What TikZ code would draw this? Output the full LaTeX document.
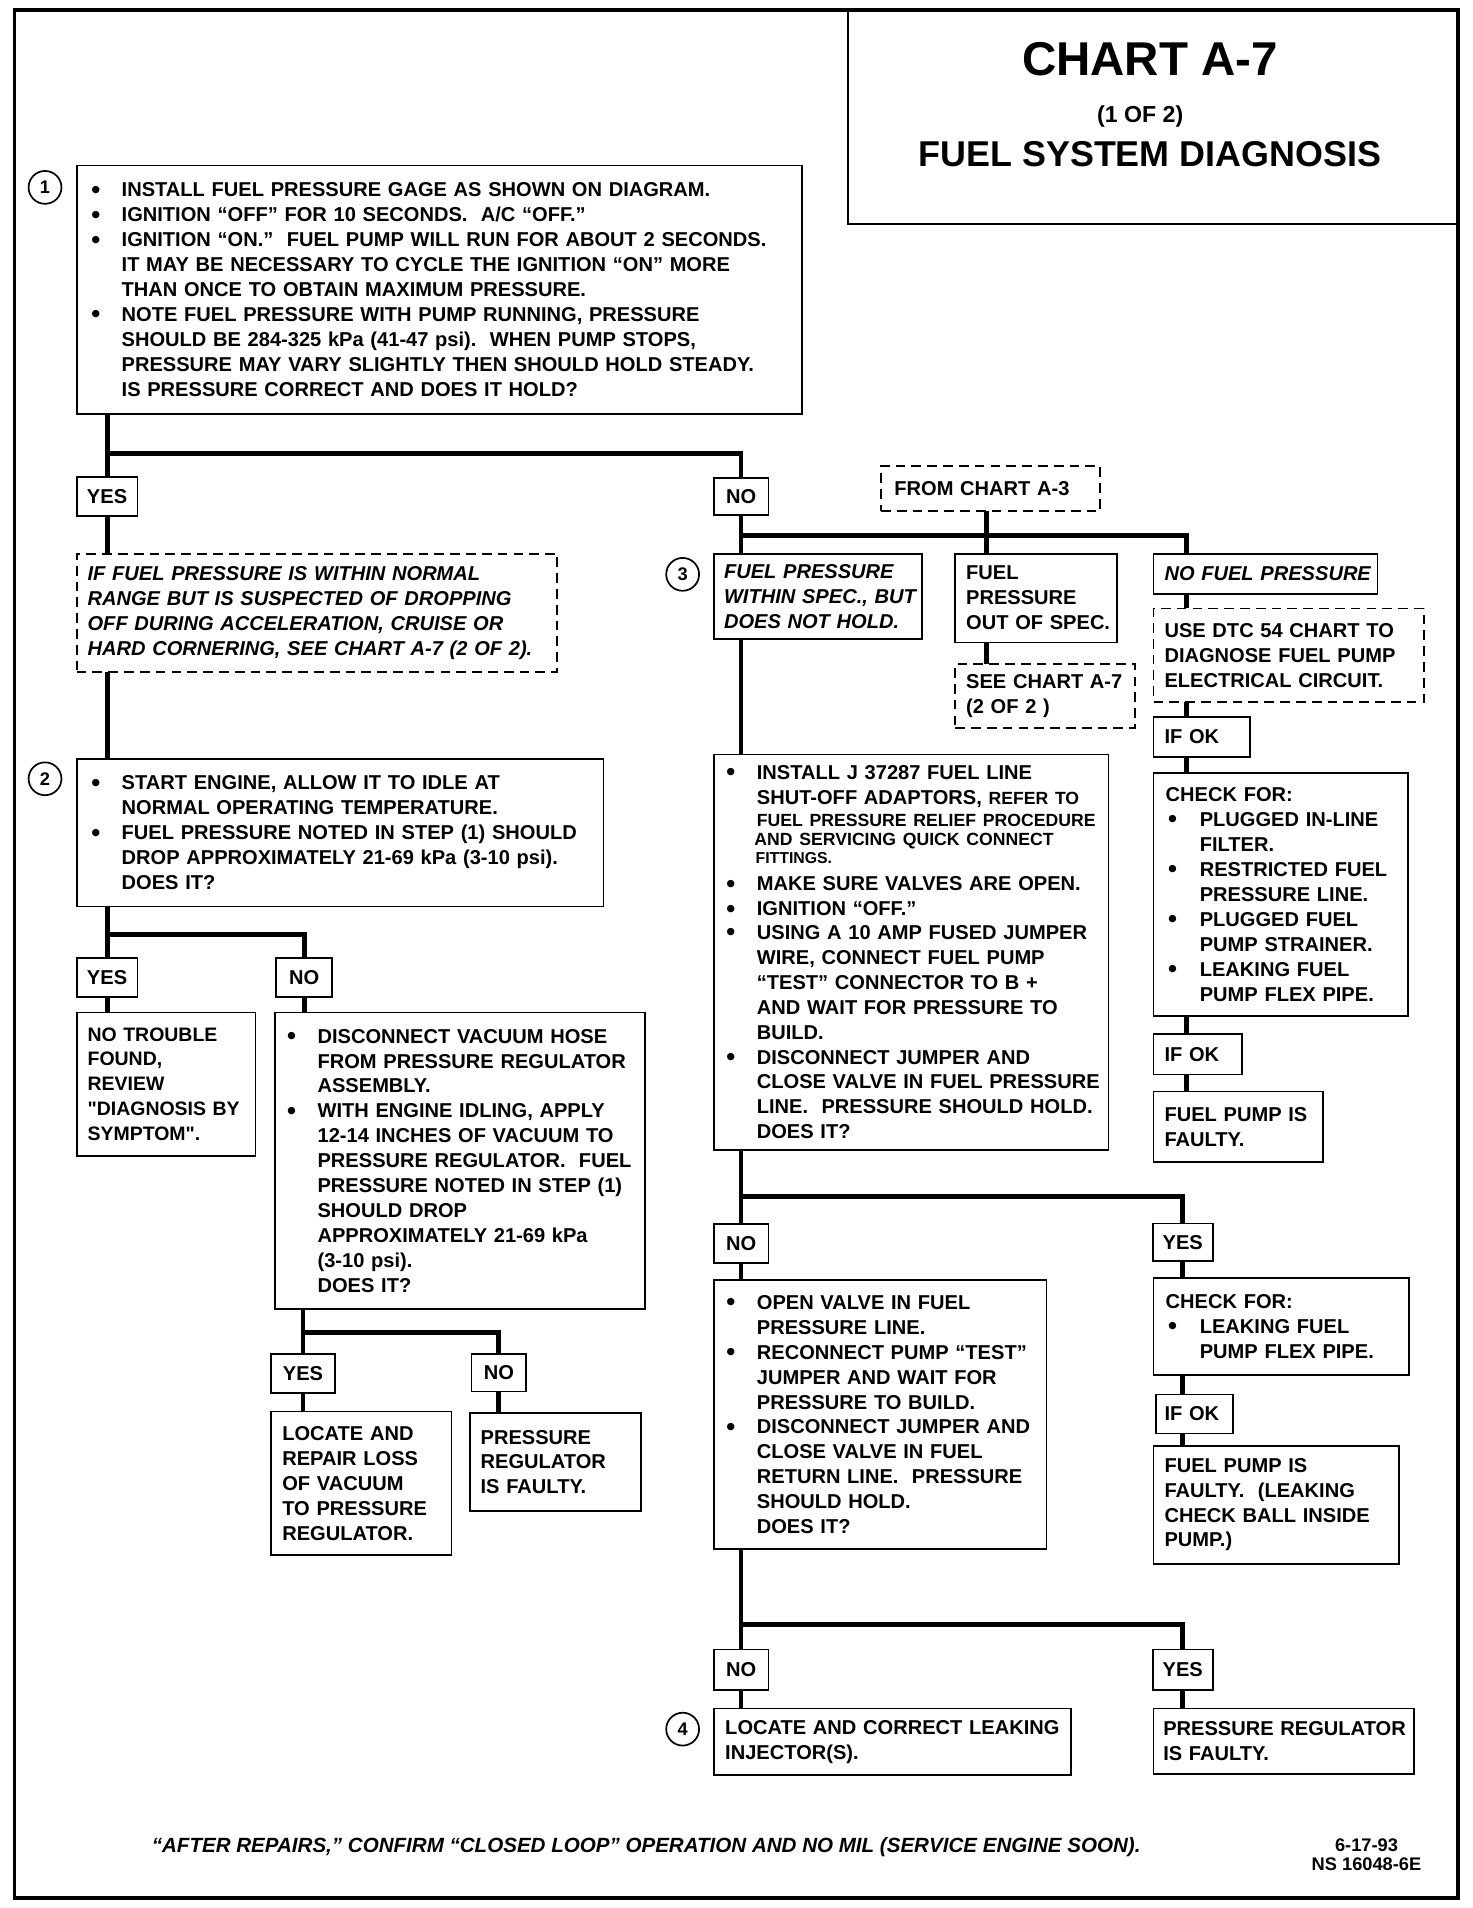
\documentclass[tikz,border=0pt]{standalone}
\usepackage{fontspec}
\setmainfont{Liberation Sans}[Ligatures=TeXOff]
\newcommand\bodyf{\fontsize{16.5}{20.5}\selectfont\bfseries}
\newcommand\smallf{\fontsize{14.5}{16}\selectfont}
\newcommand\bul{\raisebox{-1.2pt}{\fontsize{21}{20}\selectfont\textbullet}}
\newcommand\bl[1]{\mbox{\makebox[24pt][l]{\hspace*{-1pt}\bul}#1}}
\newcommand\cn[1]{\mbox{\hspace*{24pt}#1}}
\newcommand\blb[1]{\mbox{\makebox[28pt][l]{\hspace*{2pt}\bul}#1}}
\newcommand\cnb[1]{\mbox{\hspace*{28pt}#1}}
\newcommand\pl[1]{\mbox{#1}}
\tikzset{
  bx/.style={draw, line width=1.5pt, anchor=north west, outer sep=0pt, inner ysep=0pt, align=left, font=\bodyf},
  dsh/.style={bx, dash pattern=on 8pt off 5pt},
  lab/.style={draw, line width=1.5pt, outer sep=0pt, inner sep=0pt, font=\bodyf},
  conn/.style={line width=4pt},
  num/.style={draw, circle, line width=1.4pt, minimum size=27pt, inner sep=0pt, font=\fontsize{15}{15}\selectfont\bfseries},
}
\begin{document}
\begin{tikzpicture}[x=1pt,y=-1pt]
\useasboundingbox (0,0) rectangle (1210,1568);
% frame and title
\node[draw, line width=1.5pt, anchor=north west, outer sep=0pt, minimum width=501pt, minimum height=176pt] (title) at (697,8) {};
\node[font=\fontsize{39}{40}\selectfont\bfseries] (t1) at (945,49) {CHART A-7};
\node[font=\fontsize{19}{20}\selectfont\bfseries] (t2) at (937,96) {(1 OF 2)};
\node[font=\fontsize{29.5}{30}\selectfont\bfseries] (t3) at (945,127) {FUEL SYSTEM DIAGNOSIS};
\draw[line width=3pt] (12,8) rectangle (1198,1560);

% circles
\node[num] (c1) at (37,154) {1};
\node[num] (c2) at (37,640) {2};
\node[num] (c3) at (561,472) {3};
\node[num] (c4) at (561,1421) {4};

% left column
\node[bx, text width=570pt, inner xsep=13pt, minimum height=204pt] (b1) at (63,136) {%
\bl{INSTALL FUEL PRESSURE GAGE AS SHOWN ON DIAGRAM.}\\
\bl{IGNITION “OFF” FOR 10 SECONDS.~~A/C “OFF.”}\\
\bl{IGNITION “ON.”~~FUEL PUMP WILL RUN FOR ABOUT 2 SECONDS.}\\
\cn{IT MAY BE NECESSARY TO CYCLE THE IGNITION “ON” MORE}\\
\cn{THAN ONCE TO OBTAIN MAXIMUM PRESSURE.}\\
\bl{NOTE FUEL PRESSURE WITH PUMP RUNNING, PRESSURE}\\
\cn{SHOULD BE 284-325 kPa (41-47 psi).~~WHEN PUMP STOPS,}\\
\cn{PRESSURE MAY VARY SLIGHTLY THEN SHOULD HOLD STEADY.}\\
\cn{IS PRESSURE CORRECT AND DOES IT HOLD?}};

\node[lab, minimum width=50pt, minimum height=32pt] (yes1) at (88,408) {YES};
\node[lab, minimum width=45pt, minimum height=31pt] (no1) at (609,408) {NO};

\node[dsh, text width=377pt, inner xsep=9pt, minimum height=97pt, font=\bodyf\itshape] (d1) at (63,455) {%
\pl{IF FUEL PRESSURE IS WITHIN NORMAL}\\
\pl{RANGE BUT IS SUSPECTED OF DROPPING}\\
\pl{OFF DURING ACCELERATION, CRUISE OR}\\
\pl{HARD CORNERING, SEE CHART A-7 (2 OF 2).}};

\node[bx, text width=407pt, inner xsep=13pt, minimum height=121pt] (b2) at (63,624) {%
\bl{START ENGINE, ALLOW IT TO IDLE AT}\\
\cn{NORMAL OPERATING TEMPERATURE.}\\
\bl{FUEL PRESSURE NOTED IN STEP (1) SHOULD}\\
\cn{DROP APPROXIMATELY 21-69 kPa (3-10 psi).}\\
\cn{DOES IT?}};

\node[lab, minimum width=50pt, minimum height=32pt] (yes2) at (88,803) {YES};
\node[lab, minimum width=46pt, minimum height=32pt] (no2) at (250,803) {NO};

\node[bx, text width=129pt, inner xsep=9pt, minimum height=118pt, font=\fontsize{16}{20.5}\selectfont\bfseries] (b3) at (63,832) {%
\pl{NO TROUBLE}\\ \pl{FOUND,}\\ \pl{REVIEW}\\ \pl{"DIAGNOSIS BY}\\ \pl{SYMPTOM".}};

\node[bx, text width=282pt, inner xsep=11pt, minimum height=244pt] (b4) at (226,832) {%
\bl{DISCONNECT VACUUM HOSE}\\
\cn{FROM PRESSURE REGULATOR}\\
\cn{ASSEMBLY.}\\
\bl{WITH ENGINE IDLING, APPLY}\\
\cn{12-14 INCHES OF VACUUM TO}\\
\cn{PRESSURE REGULATOR.~~FUEL}\\
\cn{PRESSURE NOTED IN STEP (1)}\\
\cn{SHOULD DROP}\\
\cn{APPROXIMATELY 21-69 kPa}\\
\cn{(3-10 psi).}\\
\cn{DOES IT?}};

\node[lab, minimum width=52pt, minimum height=32pt] (yes3) at (249,1129) {YES};
\node[lab, minimum width=45pt, minimum height=31pt] (no3) at (410,1128) {NO};

\node[bx, text width=130pt, inner xsep=9pt, minimum height=118pt] (b5) at (223,1160) {%
\pl{LOCATE AND}\\ \pl{REPAIR LOSS}\\ \pl{OF VACUUM}\\ \pl{TO PRESSURE}\\ \pl{REGULATOR.}};

\node[bx, text width=123pt, inner xsep=9pt, minimum height=81pt] (b6) at (386,1161) {%
\pl{PRESSURE}\\ \pl{REGULATOR}\\ \pl{IS FAULTY.}};

% right column
\node[dsh, text width=158pt, inner xsep=11pt, minimum height=37pt] (from) at (724,383) {\pl{FROM CHART A-3}};

\node[bx, text width=155pt, inner xsep=8pt, minimum height=70pt, font=\bodyf\itshape] (b7) at (587,455) {%
\pl{FUEL PRESSURE}\\ \pl{WITHIN SPEC., BUT}\\ \pl{DOES NOT HOLD.}};

\node[bx, text width=115pt, inner xsep=9pt, minimum height=73pt] (b8) at (785,455) {%
\pl{FUEL}\\ \pl{PRESSURE}\\ \pl{OUT OF SPEC.}};

\node[bx, text width=166pt, inner xsep=9pt, minimum height=33pt, font=\bodyf\itshape] (b9) at (948,455) {\pl{NO FUEL PRESSURE}};

\node[dsh, text width=130pt, inner xsep=9pt, minimum height=52pt] (d2) at (785,546) {%
\pl{SEE CHART A-7}\\ \pl{(2 OF 2 )}};

\node[dsh, text width=204pt, inner xsep=9pt, minimum height=77pt] (d3) at (948,500) {%
\pl{USE DTC 54 CHART TO}\\ \pl{DIAGNOSE FUEL PUMP}\\ \pl{ELECTRICAL CIRCUIT.}};

\node[bx, text width=61pt, inner xsep=9pt, minimum height=33pt] (ok1) at (948,589) {\pl{IF OK}};

\node[bx, text width=189pt, inner xsep=10pt, minimum height=200pt] (b10) at (948,635) {%
\pl{CHECK FOR:}\\
\blb{PLUGGED IN-LINE}\\
\cnb{FILTER.}\\
\blb{RESTRICTED FUEL}\\
\cnb{PRESSURE LINE.}\\
\blb{PLUGGED FUEL}\\
\cnb{PUMP STRAINER.}\\
\blb{LEAKING FUEL}\\
\cnb{PUMP FLEX PIPE.}};

\node[bx, text width=55pt, inner xsep=9pt, minimum height=33pt] (ok2) at (948,850) {\pl{IF OK}};

\node[bx, text width=121pt, inner xsep=9pt, minimum height=58pt] (b11) at (948,897) {%
\pl{FUEL PUMP IS}\\ \pl{FAULTY.}};

\node[bx, text width=302pt, inner xsep=11pt, minimum height=325pt] (b12) at (587,620) {%
\bl{INSTALL J 37287 FUEL LINE}\\
\cn{SHUT-OFF ADAPTORS, {\smallf REFER TO}}\\[-2.5pt]
\cn{\smallf FUEL PRESSURE RELIEF PROCEDURE}\\[-4.5pt]
\mbox{\hspace*{22pt}\smallf AND SERVICING QUICK CONNECT}\\[-5.5pt]
\mbox{\hspace*{23pt}\fontsize{13}{15}\selectfont FITTINGS.}\\[1.5pt]
\bl{MAKE SURE VALVES ARE OPEN.}\\
\bl{IGNITION “OFF.”}\\[-1pt]
\bl{USING A 10 AMP FUSED JUMPER}\\
\cn{WIRE, CONNECT FUEL PUMP}\\
\cn{“TEST” CONNECTOR TO B +}\\
\cn{AND WAIT FOR PRESSURE TO}\\
\cn{BUILD.}\\
\bl{DISCONNECT JUMPER AND}\\
\cn{CLOSE VALVE IN FUEL PRESSURE}\\
\cn{LINE.~~PRESSURE SHOULD HOLD.}\\
\cn{DOES IT?}};

\node[lab, minimum width=45pt, minimum height=32pt] (no4) at (609,1022) {NO};
\node[lab, minimum width=49pt, minimum height=31pt] (yes4) at (972,1021) {YES};

\node[bx, text width=251pt, inner xsep=11pt, minimum height=221pt] (b13) at (587,1052) {%
\bl{OPEN VALVE IN FUEL}\\
\cn{PRESSURE LINE.}\\
\bl{RECONNECT PUMP “TEST”}\\
\cn{JUMPER AND WAIT FOR}\\
\cn{PRESSURE TO BUILD.}\\
\bl{DISCONNECT JUMPER AND}\\
\cn{CLOSE VALVE IN FUEL}\\
\cn{RETURN LINE.~~PRESSURE}\\
\cn{SHOULD HOLD.}\\
\cn{DOES IT?}};

\node[bx, text width=190pt, inner xsep=10pt, minimum height=80pt] (b14) at (948,1050) {%
\pl{CHECK FOR:}\\
\blb{LEAKING FUEL}\\
\cnb{PUMP FLEX PIPE.}};

\node[bx, text width=49pt, inner xsep=7pt, minimum height=32pt] (ok3) at (950,1146) {\pl{IF OK}};

\node[bx, text width=184pt, inner xsep=9pt, minimum height=97pt] (b15) at (948,1188) {%
\pl{FUEL PUMP IS}\\ \pl{FAULTY.~~(LEAKING}\\ \pl{CHECK BALL INSIDE}\\ \pl{PUMP.)}};

\node[lab, minimum width=45pt, minimum height=33pt] (no5) at (609,1372) {NO};
\node[lab, minimum width=49pt, minimum height=33pt] (yes5) at (972,1372) {YES};

\node[bx, text width=275pt, inner xsep=9pt, minimum height=55pt] (b16) at (587,1404) {%
\pl{LOCATE AND CORRECT LEAKING}\\ \pl{INJECTOR(S).}};

\node[bx, text width=198pt, inner xsep=8pt, minimum height=54pt] (b17) at (948,1404) {%
\pl{PRESSURE REGULATOR}\\ \pl{IS FAULTY.}};

% footer
\node[font=\fontsize{16.9}{18}\selectfont\bfseries\itshape] (foot) at (531,1518) {“AFTER REPAIRS,” CONFIRM “CLOSED LOOP” OPERATION AND NO MIL (SERVICE ENGINE SOON).};
\node[font=\fontsize{15}{16}\selectfont\bfseries, align=center] (date) at (1123,1524) {6-17-93\\NS 16048-6E};

% connectors
\coordinate (jA) at (88,373);
\coordinate (jB) at (88,768);
\coordinate (jC) at (249,1095);
\coordinate (jD) at (609,440);
\coordinate (jM) at (811,440);
\coordinate (jR) at (975,440);
\coordinate (jE) at (609,983);
\coordinate (jF) at (609,1335);

\draw[conn] (b1.south -| jA) -- (yes1.north);
\draw[conn] (jA) -| (no1.north);
\draw[conn] (yes1.south) -- (d1.north -| yes1.south);
\draw[conn] (d1.south -| yes1) -- (b2.north -| yes1);
\draw[conn] (b2.south -| yes2) -- (yes2.north);
\draw[conn] (jB) -| (no2.north);
\draw[conn] (yes2.south) -- (b3.north -| yes2);
\draw[conn] (no2.south) -- (b4.north -| no2);
\draw[conn] (b4.south -| yes3) -- (yes3.north);
\draw[conn] (jC) -| (no3.north);
\draw[conn] (yes3.south) -- (b5.north -| yes3);
\draw[conn] (no3.south) -- (b6.north -| no3);

\draw[conn] (no1.south) -- (b7.north -| no1);
\draw[conn] (jD) -- (jR) -- (b9.north -| jR);
\draw[conn] (from.south -| jM) -- (b8.north -| jM);
\draw[conn] (b8.south -| jM) -- (d2.north -| jM);
\draw[conn] (b9.south -| jR) -- (d3.north -| jR);
\draw[conn] (d3.south -| jR) -- (ok1.north -| jR);
\draw[conn] (ok1.south -| jR) -- (b10.north -| jR);
\draw[conn] (b10.south -| jR) -- (ok2.north -| jR);
\draw[conn] (ok2.south -| jR) -- (b11.north -| jR);

\draw[conn] (b7.south -| no1) -- (b12.north -| no1);
\draw[conn] (b12.south -| no4) -- (no4.north);
\draw[conn] (jE) -| (yes4.north);
\draw[conn] (no4.south) -- (b13.north -| no4);
\draw[conn] (yes4.south) -- (b14.north -| yes4);
\draw[conn] (b14.south -| yes4) -- (ok3.north -| yes4);
\draw[conn] (ok3.south -| yes4) -- (b15.north -| yes4);
\draw[conn] (b13.south -| no5) -- (no5.north);
\draw[conn] (jF) -| (yes5.north);
\draw[conn] (no5.south) -- (b16.north -| no5);
\draw[conn] (yes5.south) -- (b17.north -| yes5);
\end{tikzpicture}
\end{document}
